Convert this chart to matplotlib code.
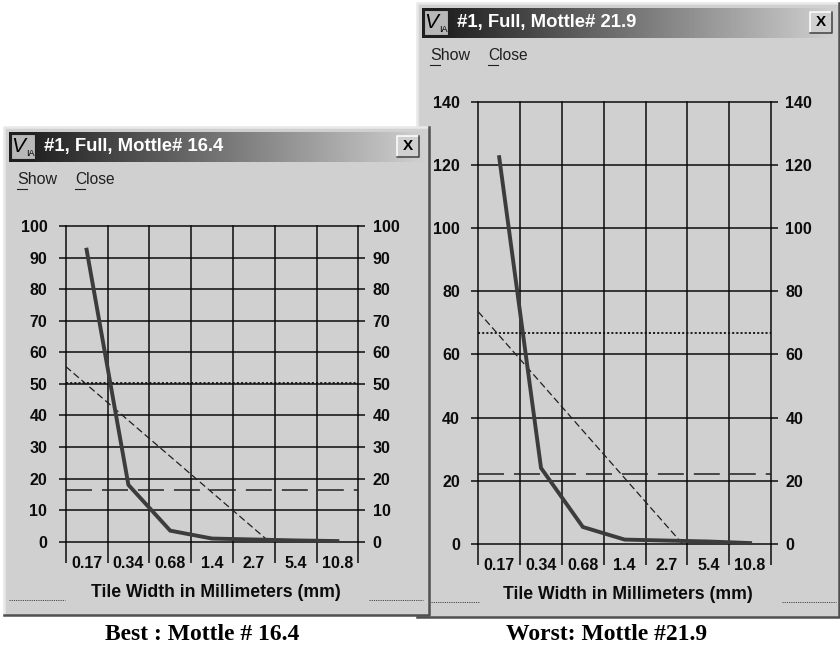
import numpy as np
import matplotlib
matplotlib.use('Agg')
import matplotlib.pyplot as plt
from matplotlib.patches import Rectangle
from matplotlib.transforms import ScaledTranslation

plt.rcParams['font.family'] = ['Liberation Sans', 'DejaVu Sans']
plt.rcParams['lines.scale_dashes'] = False

W, H = 840, 646
BG = '#d0d0d0'
INK = '#0c0c0c'

tile_labels = ['0.17', '0.34', '0.68', '1.4', '2.7', '5.4', '10.8']

# values per tile width
best_mottle = [92.5, 18, 3.5, 1.0, 0.7, 0.4, 0.2]
worst_mottle = [122.5, 24, 5.3, 1.3, 1.0, 0.7, 0.2]

best_ticks = [0, 10, 20, 30, 40, 50, 60, 70, 80, 90, 100]
worst_ticks = [0, 20, 40, 60, 80, 100, 120, 140]

best_dotted, best_dashed = 50.4, 16.3
worst_dotted, worst_dashed = 66.8, 22.1

# trend line end points (grid position, value)
best_trend_x, best_trend_y = [0, 4.87], [55.5, 0]
worst_trend_x, worst_trend_y = [0, 4.88], [73.5, 0]

fig = plt.figure(figsize=(W / 100, H / 100), dpi=100, facecolor='white')
bg = fig.add_axes([0, 0, 1, 1], zorder=0)
bg.axis('off')


def draw_window(x0, y0, x1, y1, title, close_x, z):
    # window body with the raised edge
    bg.add_patch(Rectangle((x0, y0), x1 - x0, y1 - y0, fc=BG, ec='none', zorder=z))
    bg.plot([x0, x0, x1], [y1, y0, y0], color='#e8e8e8', lw=1.8, zorder=z + 0.1)
    bg.plot([x0, x1, x1], [y1, y1, y0], color='#505050', lw=1.8, zorder=z + 0.1)

    # title bar gradient
    tx0, tx1 = x0 + 5, x1 - 2
    ty0, ty1 = y0 + 5, y0 + 35
    grad = np.concatenate([np.full(10, 0.12), np.linspace(0.12, 0.82, 246)]).reshape(1, -1)
    bg.imshow(grad, extent=(tx0, tx1, ty1, ty0), cmap='gray', vmin=0, vmax=1,
              aspect='auto', zorder=z + 0.2)

    # little program icon
    bg.add_patch(Rectangle((tx0 + 2, ty0 + 2), 24, 25, fc='#b8b8b8', ec='#202020', lw=0.8, zorder=z + 0.3))
    bg.text(tx0 + 9, ty0 + 14, 'V', fontsize=15, style='italic', color='black',
            ha='center', va='center', zorder=z + 0.4)
    bg.text(tx0 + 21, ty0 + 21, 'IA', fontsize=6.5, color='black',
            ha='center', va='center', zorder=z + 0.4)

    bg.text(tx0 + 35, (ty0 + ty1) / 2, title, color='white', fontsize=13.3, fontweight='bold',
            ha='left', va='center', zorder=z + 0.4)

    # close button
    bx0, by0 = close_x, ty0 + 4
    bw, bh = 22, 21
    bg.add_patch(Rectangle((bx0, by0), bw, bh, fc=BG, ec='none', zorder=z + 0.3))
    bg.plot([bx0, bx0, bx0 + bw], [by0 + bh, by0, by0], color='white', lw=1.1, zorder=z + 0.4)
    bg.plot([bx0, bx0 + bw, bx0 + bw], [by0 + bh, by0 + bh, by0], color='#404040', lw=1.1, zorder=z + 0.4)
    bg.text(bx0 + bw / 2, by0 + bh / 2, 'X', color='black', fontsize=11, fontweight='bold',
            ha='center', va='center', zorder=z + 0.5)

    # menu
    my = y0 + 53
    bg.text(x0 + 13, my, 'Show', fontsize=11.5, color='#202020', ha='left', va='center', zorder=z + 0.4)
    bg.text(x0 + 71, my, 'Close', fontsize=11.2, color='#202020', ha='left', va='center', zorder=z + 0.4)
    bg.plot([x0 + 13, x0 + 23], [my + 9, my + 9], color='#202020', lw=0.8, zorder=z + 0.4)
    bg.plot([x0 + 71, x0 + 81], [my + 9, my + 9], color='#202020', lw=0.8, zorder=z + 0.4)


def draw_chart(box, values, ticks, ymax, dotted, dashed, trend_x, trend_y, label_xy):
    x0, y0, x1, y1 = box
    ax = fig.add_axes([x0 / W, 1 - y1 / H, (x1 - x0) / W, (y1 - y0) / H], zorder=2)
    ax.patch.set_alpha(0)
    ax.set_xlim(0, 7)
    ax.set_ylim(0, ymax)
    for s in ax.spines.values():
        s.set_visible(False)

    ax.set_yticks(ticks)
    ax.tick_params(axis='y', left=True, right=True, labelleft=True, labelright=True,
                   length=4.8, width=1.1, color=INK, labelsize=11.5, labelcolor=INK)
    ax.tick_params(axis='y', which='major', pad=7)
    # both label columns sit about 2 px further left in the reference
    nudge = ScaledTranslation(-2 / 100, 0, fig.dpi_scale_trans)
    for t in ax.yaxis.get_major_ticks():
        for lab in (t.label1, t.label2):
            lab.set_fontweight('bold')
            lab.set_transform(lab.get_transform() + nudge)

    ax.set_xticks(range(8))
    ax.set_xticklabels([])
    ax.tick_params(axis='x', which='major', length=15, width=1.1, color=INK)
    ax.set_xticks(np.arange(7) + 0.5, minor=True)
    ax.set_xticklabels(tile_labels, minor=True, fontsize=11.5, fontweight='bold', color=INK)
    ax.tick_params(axis='x', which='minor', length=0, pad=10)

    ax.grid(True, which='major', color=INK, lw=1.1)
    ax.set_axisbelow(True)
    for gl in ax.get_xgridlines() + ax.get_ygridlines():
        gl.set_clip_on(False)

    # xlabel centre is given in picture pixels
    ax.set_xlabel('Tile Width in Millimeters (mm)', fontsize=12.7, fontweight='bold', color=INK, va='center')
    ax.xaxis.set_label_coords((label_xy[0] - x0) / (x1 - x0), (y1 - label_xy[1]) / (y1 - y0))

    ax.plot([0, 7], [dotted, dotted], color='#101010', lw=1.3, ls=(0, (1.5, 1.5)), clip_on=False)
    ax.plot([0, 7], [dashed, dashed], color='#202020', lw=1.1, ls=(0, (18.7, 7.2)), clip_on=False)
    ax.plot(trend_x, trend_y, color='#202020', lw=0.9, ls=(0, (5, 2.5)))
    ax.plot(np.arange(7) + 0.5, values, color='#3c3c3c', lw=2.8, solid_joinstyle='miter', clip_on=False)
    return ax


# right window first, the left one sits on top of it
draw_window(417, 3, 839, 617, '#1, Full, Mottle# 21.9', 810, 1)
draw_window(4, 127, 429, 615, '#1, Full, Mottle# 16.4', 397, 1.5)

# status bar dots
dots = dict(color='#404040', lw=0.7, ls=(0, (0.8, 0.8)), zorder=1.9)
bg.plot([9, 65], [600, 600], **dots)
bg.plot([369, 423], [600, 600], **dots)
bg.plot([431, 479], [602, 602], **dots)
bg.plot([782, 836], [602, 602], **dots)

bg.text(202, 634, 'Best : Mottle # 16.4', family='Liberation Serif', fontweight='bold',
        fontsize=17, ha='center', va='center', color='black')
bg.text(607, 635, 'Worst: Mottle #21.9', family='Liberation Serif', fontweight='bold',
        fontsize=17, ha='center', va='center', color='black')

bg.set_xlim(0, W)
bg.set_ylim(H, 0)

draw_chart((65.7, 226, 358.3, 541.7), best_mottle, best_ticks, 100,
           best_dotted, best_dashed, best_trend_x, best_trend_y, (215.5, 592.5))
draw_chart((478.3, 102, 771, 543.7), worst_mottle, worst_ticks, 140,
           worst_dotted, worst_dashed, worst_trend_x, worst_trend_y, (628, 594.5))

plt.savefig('out.png', dpi=100)
